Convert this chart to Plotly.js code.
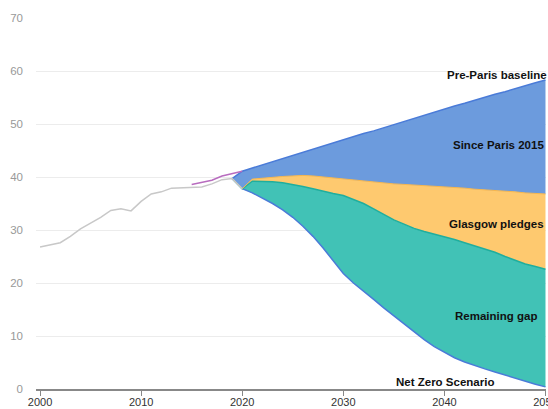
<!DOCTYPE html>
<html>
<head>
<meta charset="utf-8">
<script src="https://cdn.plot.ly/plotly-3.0.1.min.js"></script>
<style>
html,body{margin:0;padding:0;background:#fff;}
#chart{width:548px;height:409px;}
</style>
</head>
<body>
<div id="chart"></div>
<script>
// Historical emissions (grey)
const histYears = [2000,2001,2002,2003,2004,2005,2006,2007,2008,2009,2010,2011,2012,2013,2014,2015,2016,2017,2018,2019,2020];
const histValues = [26.8,27.2,27.6,28.8,30.2,31.3,32.4,33.7,34.0,33.6,35.4,36.8,37.2,37.9,38.0,38.0,38.1,38.7,39.5,39.7,37.8];

// Pre-Paris projection (purple)
const prePastYears = [2015,2016,2017,2018,2019,2020];
const prePastValues = [38.6,39.0,39.4,40.2,40.7,41.1];

// Scenario years
const projYears = [2019,2020,2021,2022,2023,2024,2025,2026,2027,2028,2029,2030,2031,2032,2033,2034,2035,2036,2037,2038,2039,2040,2041,2042,2043,2044,2045,2046,2047,2048,2049,2050];

const baseline = [39.7,41.1,41.7,42.3,42.9,43.5,44.1,44.6,45.2,45.8,46.4,47.0,47.6,48.2,48.7,49.3,49.9,50.5,51.1,51.6,52.2,52.8,53.4,53.9,54.5,55.0,55.6,56.1,56.7,57.2,57.8,58.3];
const currentPolicies = [39.7,37.8,39.6,39.8,40.0,40.1,40.2,40.3,40.2,40.0,39.8,39.6,39.4,39.3,39.1,38.9,38.7,38.6,38.5,38.4,38.3,38.2,38.0,37.9,37.7,37.6,37.4,37.3,37.2,37.0,36.9,36.8];
const pledges = [39.7,37.8,39.2,39.2,39.1,38.9,38.6,38.2,37.8,37.3,36.9,36.5,35.8,35.0,34.0,33.0,31.9,31.1,30.3,29.7,29.2,28.8,28.2,27.6,27.0,26.4,25.8,25.0,24.3,23.6,23.1,22.6];
const netZero = [39.7,37.8,37.0,36.0,35.0,33.8,32.4,30.7,28.8,26.6,24.2,21.8,20.0,18.5,16.9,15.3,13.8,12.2,10.7,9.3,8.0,6.9,5.9,5.1,4.4,3.8,3.2,2.6,2.0,1.4,0.9,0.4];

const labelTexts = ["Pre-Paris baseline","Since Paris 2015","Glasgow pledges","Remaining gap","Net Zero Scenario"];
const labelY = [59.3,46.1,31.1,13.7,1.3];

const xTicks = [2000,2010,2020,2030,2040,2050];
const yTicks = [0,10,20,30,40,50,60,70];

const traces = [
  {x: projYears, y: netZero, type:'scatter', mode:'lines', line:{color:'#4a7bd8', width:1.5}, hoverinfo:'skip'},
  {x: projYears, y: pledges, type:'scatter', mode:'lines', fill:'tonexty', fillcolor:'#41c2b6', line:{color:'#1fae9e', width:1.5}, hoverinfo:'skip'},
  {x: projYears, y: currentPolicies, type:'scatter', mode:'lines', fill:'tonexty', fillcolor:'#fec96f', line:{color:'#f7b64c', width:1}, hoverinfo:'skip'},
  {x: projYears, y: baseline, type:'scatter', mode:'lines', fill:'tonexty', fillcolor:'#6c9bdd', line:{color:'#4a7bd8', width:1.5}, hoverinfo:'skip'},
  {x: histYears, y: histValues, type:'scatter', mode:'lines', line:{color:'#c8c8c8', width:1.5}, hoverinfo:'skip'},
  {x: prePastYears, y: prePastValues, type:'scatter', mode:'lines', line:{color:'#b86cbf', width:1.5}, hoverinfo:'skip'}
];

const annX = [2050, 2050, 2050, 2050, 2040];
const annXShift = [4, 1, 1, -6, 1];
const annotations = labelTexts.map((t,i) => ({
  text: '<b>' + t + '</b>',
  x: annX[i],
  y: labelY[i],
  xref:'x', yref:'y',
  xanchor: i === 4 ? 'center' : 'right',
  yanchor:'middle',
  xshift: annXShift[i],
  showarrow:false,
  font:{family:'Liberation Sans, Arial, sans-serif', size:11.5, color:'#111'}
}));

const layout = {
  width:548, height:409,
  margin:{l:36, r:2, t:18, b:20, pad:0},
  paper_bgcolor:'#fff', plot_bgcolor:'#fff',
  showlegend:false,
  font:{family:'Liberation Sans, Arial, sans-serif'},
  xaxis:{
    range:[1999.6, 2050.05], tickvals:xTicks, ticktext:xTicks.map(String),
    showgrid:false, zeroline:false, showline:true, linecolor:'#888', linewidth:1.5,
    ticks:'outside', ticklen:5, tickcolor:'#888', tickwidth:1,
    ticklabelstandoff:-3, ticklabeloverflow:'allow',
    tickfont:{size:11, color:'#333'}, fixedrange:true
  },
  yaxis:{
    range:[0,70], tickvals:yTicks, ticktext:yTicks.map(String),
    showgrid:true, gridcolor:'#ececec', gridwidth:1, zeroline:false, showline:false,
    ticks:'', ticklabelstandoff:12,
    tickfont:{size:11.5, color:'#999'}, fixedrange:true
  },
  annotations: annotations
};

Plotly.newPlot('chart', traces, layout, {displayModeBar:false, staticPlot:true});
</script>
</body>
</html>
